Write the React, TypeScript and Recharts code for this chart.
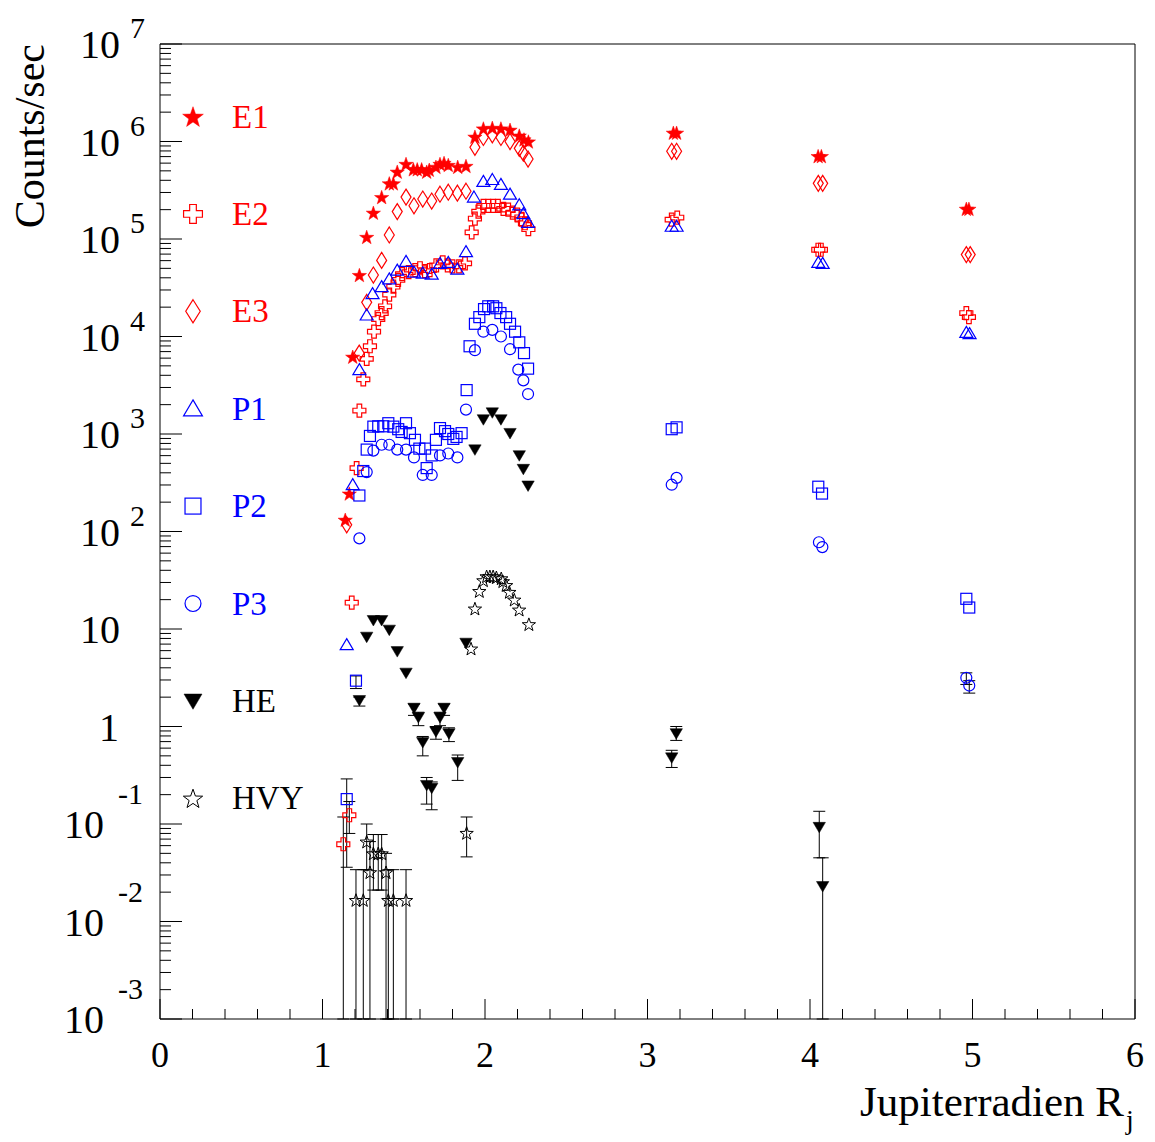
import React from "react";
import { ScatterChart, Scatter, XAxis, YAxis, ErrorBar, ReferenceLine } from "recharts";

// [x (R_j), counts/sec] or [x, counts/sec, errLow, errHigh]
type Pt = number[];

const E1: Pt[] = [
  [1.14, 132], [1.165, 245], [1.186, 6200], [1.227, 42700], [1.272, 105000],
  [1.313, 186000], [1.364, 269000], [1.411, 372000], [1.436, 372000], [1.46, 490000],
  [1.514, 589000], [1.559, 519000], [1.583, 519000], [1.61, 519000], [1.641, 490000],
  [1.657, 513000], [1.698, 550000], [1.723, 589000], [1.748, 603000], [1.774, 575000],
  [1.832, 550000], [1.883, 562000], [1.938, 1120000], [1.99, 1360000], [2.045, 1380000],
  [2.098, 1360000], [2.154, 1320000], [2.211, 1150000], [2.24, 1050000], [2.267, 1000000],
  [3.159, 1230000], [3.179, 1230000], [4.05, 708000], [4.07, 708000], [4.962, 204000], [4.978, 204000],
];

const E2: Pt[] = [
  [1.128, 0.062, 0.001, 0.118], [1.165, 0.123, 0.08, 0.17], [1.18, 18.6], [1.21, 447],
  [1.227, 1740], [1.251, 3630], [1.272, 5890], [1.292, 7940], [1.317, 11200], [1.343, 15100],
  [1.364, 17400], [1.385, 20400], [1.411, 26900], [1.436, 32400], [1.466, 38000], [1.49, 43600],
  [1.53, 45700], [1.57, 47900], [1.6, 50100], [1.63, 46800], [1.66, 47900], [1.7, 53700],
  [1.74, 57500], [1.77, 53700], [1.8, 52500], [1.84, 52500], [1.877, 56200], [1.918, 117000],
  [1.938, 162000], [1.959, 191000], [1.99, 219000], [2.02, 219000], [2.05, 219000], [2.08, 219000],
  [2.113, 204000], [2.143, 200000], [2.17, 186000], [2.199, 178000], [2.226, 158000],
  [2.246, 145000], [2.267, 126000], [3.149, 158000], [3.183, 166000], [4.051, 77600],
  [4.067, 77600], [4.962, 17400], [4.978, 15800],
];

const E3: Pt[] = [
  [1.149, 117], [1.226, 6760], [1.272, 22400], [1.313, 42700], [1.364, 60300], [1.411, 110000],
  [1.46, 191000], [1.514, 269000], [1.563, 219000], [1.617, 257000], [1.672, 245000],
  [1.723, 288000], [1.774, 302000], [1.83, 295000], [1.883, 309000], [1.938, 871000],
  [1.99, 1100000], [2.045, 1170000], [2.098, 1100000], [2.154, 1000000], [2.211, 851000],
  [2.236, 759000], [2.265, 661000], [3.149, 794000], [3.179, 794000], [4.051, 372000],
  [4.078, 372000], [4.962, 69200], [4.986, 69200],
];

const P1: Pt[] = [
  [1.149, 6.9], [1.186, 302], [1.227, 4570], [1.272, 16600], [1.308, 27500], [1.364, 32400],
  [1.411, 38900], [1.46, 47900], [1.514, 58900], [1.563, 45700], [1.617, 44700], [1.672, 43600],
  [1.723, 56200], [1.774, 57500], [1.83, 49000], [1.883, 74100], [1.932, 269000], [1.99, 389000],
  [2.045, 407000], [2.098, 363000], [2.154, 288000], [2.211, 224000], [2.236, 182000],
  [2.265, 148000], [3.149, 135000], [3.179, 135000], [4.051, 57500], [4.078, 56200],
  [4.962, 11000], [4.982, 10700],
];

const P2: Pt[] = [
  [1.149, 0.18, 0.036, 0.29], [1.206, 2.95, 2.45, 3.3], [1.227, 234], [1.251, 417], [1.272, 692],
  [1.292, 955], [1.313, 1190], [1.343, 1200], [1.374, 1200], [1.405, 1290], [1.436, 1190],
  [1.466, 1120], [1.487, 1050], [1.514, 1290], [1.538, 1020], [1.569, 871], [1.596, 708],
  [1.631, 708], [1.641, 447], [1.672, 603], [1.698, 871], [1.723, 1150], [1.754, 1070],
  [1.774, 1000], [1.805, 891], [1.825, 933], [1.856, 1020], [1.887, 2820], [1.905, 7940],
  [1.938, 13500], [1.965, 15800], [1.994, 19100], [2.02, 20400], [2.05, 20400], [2.07, 19500],
  [2.095, 17400], [2.13, 15800], [2.154, 13500], [2.185, 11200], [2.211, 8710], [2.24, 6760],
  [2.265, 4680], [3.149, 1120], [3.179, 1170], [4.051, 288], [4.074, 245], [4.962, 20.4], [4.98, 16.6],
];

const P3: Pt[] = [
  [1.227, 85], [1.272, 407], [1.313, 676], [1.364, 776], [1.411, 776], [1.46, 692], [1.514, 692],
  [1.563, 575], [1.617, 380], [1.672, 380], [1.723, 603], [1.774, 631], [1.83, 575], [1.883, 1780],
  [1.938, 7240], [1.99, 11200], [2.045, 11700], [2.098, 10000], [2.154, 7410], [2.205, 4570],
  [2.236, 3550], [2.265, 2570], [3.149, 302], [3.179, 355], [4.055, 77.6], [4.076, 69.2],
  [4.962, 3.16, 2.7, 3.55], [4.98, 2.63, 2.2, 2.95],
];

const HE: Pt[] = [
  [1.227, 1.86, 1.62, 2.0], [1.272, 8.3], [1.313, 12.3], [1.364, 12.3], [1.411, 9.8], [1.46, 5.9],
  [1.514, 3.55], [1.563, 1.55, 1.3, 1.7], [1.59, 1.245, 1.02, 1.4], [1.617, 0.69, 0.5, 0.79],
  [1.641, 0.25, 0.16, 0.3], [1.672, 0.234, 0.14, 0.27], [1.698, 0.89, 0.74, 1.0],
  [1.723, 1.245, 1.02, 1.4], [1.748, 1.55, 1.3, 1.7], [1.778, 0.85, 0.7, 0.97],
  [1.832, 0.43, 0.28, 0.51], [1.883, 7.2], [1.938, 692], [1.99, 1410], [2.045, 1660],
  [2.098, 1410], [2.154, 1020], [2.211, 603], [2.236, 437], [2.265, 295],
  [3.149, 0.48, 0.38, 0.57], [3.177, 0.85, 0.72, 1.0], [4.057, 0.093, 0.045, 0.135],
  [4.078, 0.023, 0.001, 0.045],
];

const HVY: Pt[] = [
  [1.206, 0.0166, 0.001, 0.034], [1.251, 0.0166, 0.001, 0.034], [1.272, 0.066, 0.034, 0.1],
  [1.292, 0.032, 0.001, 0.066], [1.313, 0.05, 0.021, 0.078], [1.343, 0.05, 0.021, 0.078],
  [1.364, 0.05, 0.021, 0.078], [1.391, 0.032, 0.001, 0.05], [1.405, 0.0166, 0.001, 0.034],
  [1.436, 0.0166, 0.001, 0.034], [1.514, 0.0166, 0.001, 0.034], [1.887, 0.081, 0.046, 0.118],
  [1.914, 6.3], [1.938, 16.2], [1.965, 24.5], [1.99, 31.6], [2.01, 34.7], [2.03, 34.7],
  [2.05, 34.7], [2.07, 33.9], [2.1, 33.1], [2.11, 30.9], [2.13, 28.2], [2.15, 24.0],
  [2.18, 20.0], [2.21, 15.8], [2.27, 11.2],
];

const RED = "#ff0000";
const BLUE = "#0000ff";
const BLACK = "#000000";
const FONT = "'Liberation Serif', 'Times New Roman', serif";

type Kind = "starFill" | "cross" | "diamond" | "triUp" | "square" | "circle" | "triDown" | "starOpen";

const SERIES: { name: string; pts: Pt[]; kind: Kind; color: string }[] = [
  { name: "E1", pts: E1, kind: "starFill", color: RED },
  { name: "E2", pts: E2, kind: "cross", color: RED },
  { name: "E3", pts: E3, kind: "diamond", color: RED },
  { name: "P1", pts: P1, kind: "triUp", color: BLUE },
  { name: "P2", pts: P2, kind: "square", color: BLUE },
  { name: "P3", pts: P3, kind: "circle", color: BLUE },
  { name: "HE", pts: HE, kind: "triDown", color: BLACK },
  { name: "HVY", pts: HVY, kind: "starOpen", color: BLACK },
];

const toRows = (pts: Pt[]) =>
  pts.map((p) => ({
    x: p[0],
    y: p[1],
    err: p.length === 4 ? [p[1] - p[2], p[3] - p[1]] : undefined,
  }));

const starPath = (cx: number, cy: number, R: number) => {
  const r = R * 0.4;
  let d = "";
  for (let i = 0; i < 10; i++) {
    const a = (Math.PI / 5) * i - Math.PI / 2;
    const rr = i % 2 === 0 ? R : r;
    d += (i === 0 ? "M" : "L") + (cx + rr * Math.cos(a)).toFixed(2) + "," + (cy + rr * Math.sin(a) + R * 0.1).toFixed(2);
  }
  return d + "Z";
};

const Marker = ({ kind, cx, cy, color, s = 1 }: { kind: Kind; cx: number; cy: number; color: string; s?: number }) => {
  const sw = 1.2;
  switch (kind) {
    case "starFill":
      return <path d={starPath(cx, cy, 7.5 * s)} fill={color} stroke={color} strokeWidth={0.5} />;
    case "starOpen":
      return <path d={starPath(cx, cy, 7 * s)} fill="none" stroke={color} strokeWidth={1} />;
    case "cross": {
      const a = 6.5 * s, t = 2.3 * s;
      const d = `M${cx - t},${cy - a}H${cx + t}V${cy - t}H${cx + a}V${cy + t}H${cx + t}V${cy + a}H${cx - t}V${cy + t}H${cx - a}V${cy - t}H${cx - t}Z`;
      return <path d={d} fill="none" stroke={color} strokeWidth={sw} />;
    }
    case "diamond": {
      const w = 5 * s, h = 8 * s;
      return <path d={`M${cx},${cy - h}L${cx + w},${cy}L${cx},${cy + h}L${cx - w},${cy}Z`} fill="none" stroke={color} strokeWidth={sw} />;
    }
    case "triUp": {
      const w = 6.5 * s, h = 11 * s;
      return <path d={`M${cx},${cy - h * 0.55}L${cx + w},${cy + h * 0.45}L${cx - w},${cy + h * 0.45}Z`} fill="none" stroke={color} strokeWidth={sw} />;
    }
    case "triDown": {
      const w = 6.2 * s, h = 10.5 * s;
      return <path d={`M${cx - w},${cy - h * 0.45}L${cx + w},${cy - h * 0.45}L${cx},${cy + h * 0.55}Z`} fill={color} stroke={color} strokeWidth={0.5} />;
    }
    case "square": {
      const a = 5.5 * s;
      return <rect x={cx - a} y={cy - a} width={2 * a} height={2 * a} fill="none" stroke={color} strokeWidth={sw} />;
    }
    case "circle":
      return <circle cx={cx} cy={cy} r={5.5 * s} fill="none" stroke={color} strokeWidth={sw} />;
  }
  return null;
};

const yTicks: number[] = [];
for (let e = -3; e < 7; e++) for (let k = 1; k <= 9; k++) yTicks.push(k * Math.pow(10, e));
yTicks.push(1e7);

const xTicks: number[] = [];
for (let i = 0; i <= 30; i++) xTicks.push(i / 5);

const YTick = (props: any) => {
  const { x, y, payload } = props;
  const lg = Math.log10(payload.value);
  const e = Math.round(lg);
  const major = Math.abs(lg - e) < 1e-6;
  let label: React.ReactNode = null;
  if (major) {
    if (e === 0) {
      label = <text x={x - 41} y={y + 14} textAnchor="end" fontSize={40} fontFamily={FONT}>1</text>;
    } else if (e === 1) {
      label = <text x={x - 40} y={y + 14} textAnchor="end" fontSize={40} fontFamily={FONT}>10</text>;
    } else if (e > 1) {
      label = (
        <g fontFamily={FONT}>
          <text x={x - 40} y={y + 14} textAnchor="end" fontSize={40}>10</text>
          <text x={x - 30} y={y - 6} fontSize={30}>{e}</text>
        </g>
      );
    } else {
      label = (
        <g fontFamily={FONT}>
          <text x={x - 56} y={y + 14} textAnchor="end" fontSize={40}>10</text>
          <text x={x - 42} y={y - 20} fontSize={30}>{"-" + -e}</text>
        </g>
      );
    }
  }
  return (
    <g>
      <line x1={x} x2={x + (major ? 22 : 11)} y1={y} y2={y} stroke={BLACK} strokeWidth={1} />
      {label}
    </g>
  );
};

const XTick = (props: any) => {
  const { x, y, payload } = props;
  const i = Math.round(payload.value * 5);
  const major = i % 5 === 0;
  return (
    <g>
      <line x1={x} x2={x} y1={y} y2={y - (major ? 20 : 10)} stroke={BLACK} strokeWidth={1} />
      {major && (
        <text x={x} y={y + 48} textAnchor="middle" fontSize={36} fontFamily={FONT}>
          {i / 5}
        </text>
      )}
    </g>
  );
};

const App = () => {
  return (
    <div style={{ position: "absolute", left: 0, top: 0, width: 1155, height: 1142, background: "#fff" }}>
      <ScatterChart width={1155} height={1142} margin={{ top: 44, right: 20, bottom: 0, left: 0 }}>
        <XAxis
          type="number"
          dataKey="x"
          domain={[0, 6]}
          allowDataOverflow
          ticks={xTicks}
          interval={0}
          height={123}
          tickSize={0}
          tickMargin={0}
          tickLine={false}
          axisLine={{ stroke: BLACK, strokeWidth: 1 }}
          tick={<XTick />}
        />
        <YAxis
          type="number"
          dataKey="y"
          scale="log"
          domain={[1e-3, 1e7]}
          allowDataOverflow
          ticks={yTicks}
          interval={0}
          width={160}
          tickSize={0}
          tickMargin={0}
          tickLine={false}
          axisLine={{ stroke: BLACK, strokeWidth: 1 }}
          tick={<YTick />}
        />
        <ReferenceLine y={1e7} stroke={BLACK} strokeWidth={1} />
        <ReferenceLine x={6} stroke={BLACK} strokeWidth={1} />
        {SERIES.map((s) => (
          <Scatter
            key={s.name}
            name={s.name}
            data={toRows(s.pts)}
            isAnimationActive={false}
            shape={(p: any) => <Marker kind={s.kind} cx={p.cx} cy={p.cy} color={s.color} />}
          >
            <ErrorBar dataKey="err" direction="y" width={6} stroke={BLACK} strokeWidth={1} />
          </Scatter>
        ))}
      </ScatterChart>
      <svg width={1155} height={1142} style={{ position: "absolute", left: 0, top: 0, pointerEvents: "none" }}>
        {SERIES.map((s, i) => {
          const cy = 116.5 + i * 97.4;
          return (
            <g key={s.name}>
              <Marker kind={s.kind} cx={193} cy={cy} color={s.color} s={1.45} />
              <text x={232} y={cy + 11} fontSize={33} fontFamily={FONT} fill={s.color}>
                {s.name}
              </text>
            </g>
          );
        })}
        <text
          transform="translate(44,44) rotate(-90)"
          textAnchor="end"
          fontSize={42}
          fontFamily={FONT}
        >
          Counts/sec
        </text>
        <text x={1124} y={1116} textAnchor="end" fontSize={43} fontFamily={FONT}>
          Jupiterradien R
        </text>
        <text x={1126} y={1129} fontSize={28} fontFamily={FONT}>
          j
        </text>
      </svg>
    </div>
  );
};

export default App;
